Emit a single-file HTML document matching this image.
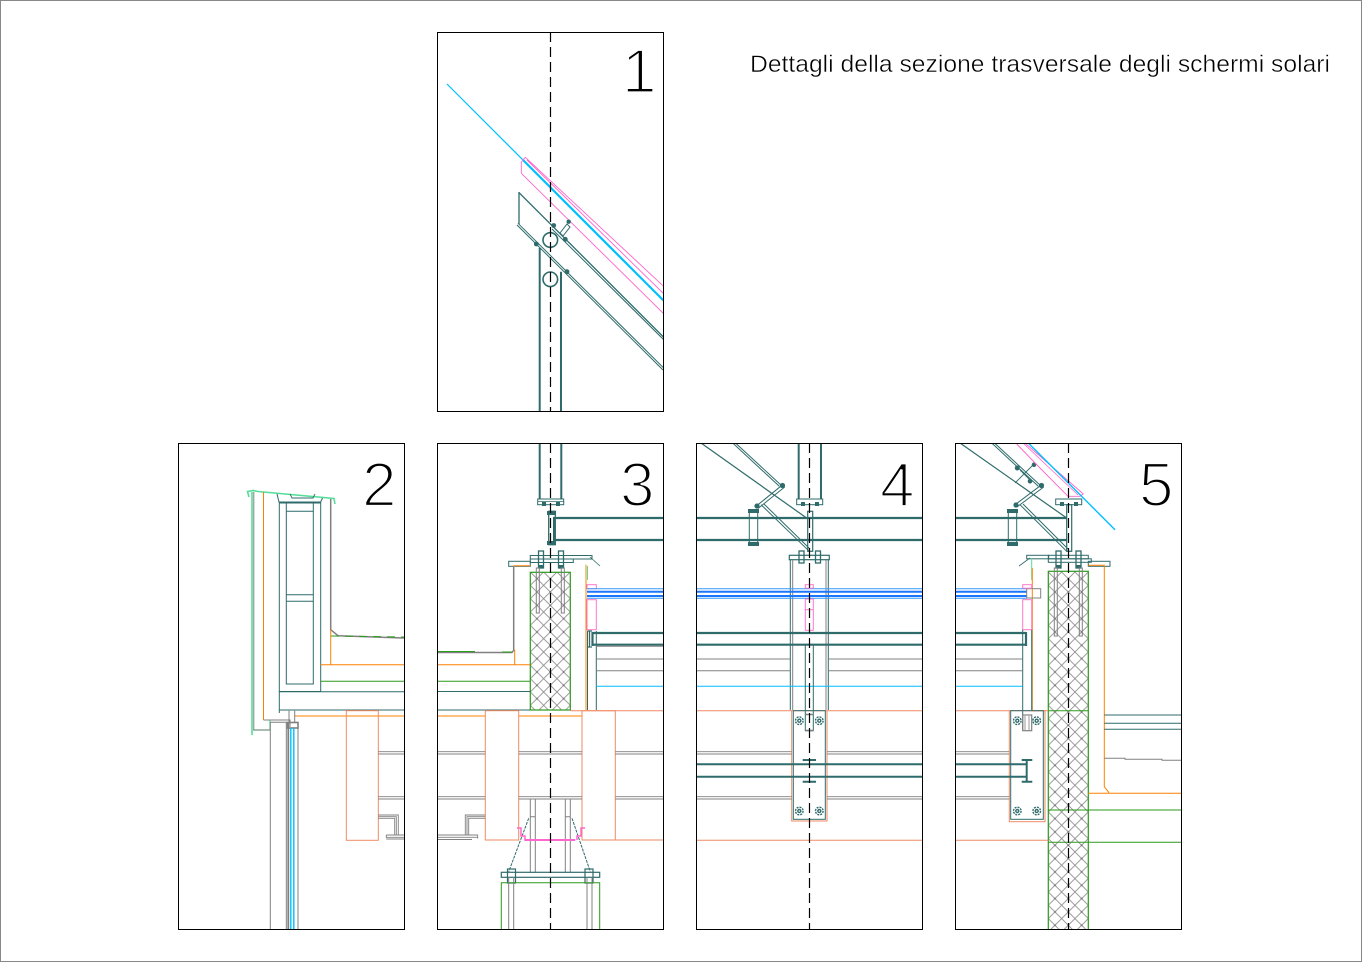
<!DOCTYPE html>
<html><head><meta charset="utf-8"><style>
html,body{margin:0;padding:0;background:#fff;}
svg{display:block;}
</style></head><body>
<svg width="1362" height="962" viewBox="0 0 1362 962" xmlns="http://www.w3.org/2000/svg">
<defs>
<clipPath id="c1"><rect x="437" y="32" width="227" height="380"/></clipPath>
<clipPath id="c2"><rect x="178" y="443" width="227" height="487"/></clipPath>
<clipPath id="c3"><rect x="437" y="443" width="227" height="487"/></clipPath>
<clipPath id="c4"><rect x="696" y="443" width="227" height="487"/></clipPath>
<clipPath id="c5"><rect x="955" y="443" width="227" height="487"/></clipPath>
<pattern id="xh3" patternUnits="userSpaceOnUse" x="530.3" y="572" width="13.33" height="13.33">
 <path d="M0 0L13.33 13.33M13.33 0L0 13.33" stroke="#8a8a8a" stroke-width="0.8" fill="none"/>
 <circle cx="6.67" cy="6.67" r="1" fill="#777"/>
</pattern>
<pattern id="xh5" patternUnits="userSpaceOnUse" x="1048.3" y="572" width="13.33" height="13.33">
 <path d="M0 0L13.33 13.33M13.33 0L0 13.33" stroke="#8a8a8a" stroke-width="0.8" fill="none"/>
 <circle cx="6.67" cy="6.67" r="1" fill="#777"/>
</pattern>
</defs>

<rect x="0.5" y="0.5" width="1361" height="961" fill="#fff" stroke="#888" stroke-width="1"/>

<text x="750" y="72" font-family="Liberation Sans, sans-serif" font-size="24" textLength="580" lengthAdjust="spacingAndGlyphs" fill="#000" stroke="#fff" stroke-width="0.45">Dettagli della sezione trasversale degli schermi solari</text>

<!-- ================= PANEL 1 ================= -->
<g clip-path="url(#c1)" fill="none">
 <line x1="447" y1="84" x2="664" y2="301" stroke="#00bfff" stroke-width="1.2"/>
 <line x1="523" y1="160" x2="664" y2="301" stroke="#00bfff" stroke-width="2.2"/>
 <path d="M525.3 157.3L664 286.7M521.3 173.3L664 314M521.3 162V173.3M521.3 162L525.3 157.3M527 160L664 294" stroke="#ff66cc" stroke-width="0.9"/>
 <path d="M518.7 192.3L664 337.5M519 192V224" stroke="#2f6b6b" stroke-width="1.3"/>
 <path d="M552 229L664 340" stroke="#2f6b6b" stroke-width="1"/>
 <path d="M518 223.3L664 368.3M517 225L663 370" stroke="#2f6b6b" stroke-width="1"/>
 <circle cx="550.3" cy="240" r="7.3" stroke="#2f6b6b" stroke-width="1.6"/>
 <circle cx="550.3" cy="279.3" r="7.3" stroke="#2f6b6b" stroke-width="1.6"/>
 <path d="M539.7 248V412M561 271.7V412" stroke="#2f6b6b" stroke-width="2"/>
 <path d="M560 233L567 224L570 227L563 236Z" stroke="#2f6b6b" stroke-width="1"/>
 <g fill="#2f6b6b">
  <circle cx="553.7" cy="225.5" r="2.4"/><circle cx="568.7" cy="221.7" r="2.2"/>
  <circle cx="565.3" cy="239.3" r="2.4"/><circle cx="536.3" cy="244" r="2.4"/>
  <circle cx="567" cy="271.7" r="2.4"/>
 </g>
</g>
<line x1="550.5" y1="32" x2="550.5" y2="411" stroke="#000" stroke-width="1.2" stroke-dasharray="10 5"/>
<rect x="437.5" y="32.5" width="226" height="379" fill="none" stroke="#000" stroke-width="1"/>
<text x="622" y="92.5" font-family="Liberation Sans, sans-serif" font-size="62" fill="#000" stroke="#fff" stroke-width="2.2">1</text>

<!-- ================= PANEL 2 ================= -->
<g clip-path="url(#c2)" fill="none">
 <polyline points="249,497 247.5,491.5 253,490.5 258,491.5 334,498.5 335,504" stroke="#55dd99" stroke-width="1.6"/>
 <line x1="252" y1="492" x2="252" y2="735" stroke="#55dd99" stroke-width="1.6"/>
 <polyline points="253,730 270,730 270,720" stroke="#55dd99" stroke-width="1.3"/>
 <polyline points="253.8,492 253.8,730 270,730" stroke="#808080" stroke-width="1"/>
 <line x1="263.5" y1="492" x2="263.5" y2="720" stroke="#ff8000" stroke-width="1"/>
 <polyline points="263.5,720 290,720 290,727" stroke="#808080" stroke-width="1"/>
 <rect x="279.3" y="503" width="41.4" height="188.5" stroke="#2f6b6b" stroke-width="1"/>
 <rect x="286.3" y="503" width="27" height="181" stroke="#2f6b6b" stroke-width="1"/>
 <path d="M286.3 511.3H313.3M286.3 594.7H313.3M286.3 601.3H313.3" stroke="#2f6b6b" stroke-width="1"/>
 <polyline points="277,494 279,502 320.7,502 322.5,498" stroke="#2f6b6b" stroke-width="1"/>
 <polyline points="290,494 292,498 313,498 315,494" stroke="#2f6b6b" stroke-width="0.9"/>
 <path d="M279.3 691.5V713M279.3 691.7H405M279.3 710H405" stroke="#2f6b6b" stroke-width="1"/>
 <polyline points="330.7,499 330.7,629.7 338,635.7 404,638" stroke="#808080" stroke-width="1.5"/>
 <line x1="331" y1="636" x2="404" y2="637" stroke="#2a9a1a" stroke-width="1" stroke-dasharray="8 6"/>
 <polyline points="330.7,630 330.7,664.7" stroke="#ff8000" stroke-width="1"/>
 <line x1="320.7" y1="664.7" x2="405" y2="664.7" stroke="#ff8000" stroke-width="1"/>
 <line x1="320.7" y1="681.3" x2="405" y2="681.3" stroke="#2a9a1a" stroke-width="1"/>
 <line x1="294.7" y1="716" x2="405" y2="716" stroke="#ff8000" stroke-width="1"/>
 <rect x="346.3" y="710.7" width="32" height="129.6" stroke="#f08a64" stroke-width="1"/>
 <path d="M378.3 751.7H405M378.3 754H405M378.3 796.7H405M378.3 799H405" stroke="#808080" stroke-width="0.9"/>
 <path d="M378.3 815H398.3V835M378.3 816.7H396.3V835M378.3 818.3H394.7V835M386.3 835H405M386.3 837.3H405M386.3 839H405M386.3 835V838" stroke="#808080" stroke-width="0.9"/>
 <path d="M289 710.7V722M294.7 710.7V722M270.3 722.3H288" stroke="#808080" stroke-width="1"/>
 <rect x="287.5" y="722.5" width="10.5" height="5.5" stroke="#808080" stroke-width="1.6"/>
 <path d="M270.3 722V930M286.3 722V930M298 722V930" stroke="#808080" stroke-width="1"/>
 <path d="M288.3 722V930" stroke="#808080" stroke-width="1.8"/>
 <path d="M290.8 728V930M293.8 728V930" stroke="#00bfff" stroke-width="1.4"/>
</g>
<rect x="178.5" y="443.5" width="226" height="486" fill="none" stroke="#000" stroke-width="1"/>
<text x="362" y="506" font-family="Liberation Sans, sans-serif" font-size="62" fill="#000" stroke="#fff" stroke-width="2.2">2</text>

<!-- ================= PANEL 3 ================= -->
<g clip-path="url(#c3)" fill="none">
 <path d="M539.7 443V499M561.3 443V499" stroke="#2f6b6b" stroke-width="2"/>
 <rect x="537.7" y="499" width="26" height="5.7" stroke="#2f6b6b" stroke-width="1"/>
 <line x1="537.7" y1="501.5" x2="563.7" y2="501.5" stroke="#2f6b6b" stroke-width="0.8"/>
 <rect x="542" y="502" width="4" height="4" fill="#2f6b6b"/><rect x="556" y="502" width="4" height="4" fill="#2f6b6b"/>
 <rect x="548.7" y="511.3" width="6.6" height="33.4" stroke="#2f6b6b" stroke-width="1.3"/>
 <rect x="547" y="511" width="9" height="4" fill="#2f6b6b"/><rect x="547" y="541" width="9" height="4" fill="#2f6b6b"/>
 <path d="M553 518H664M553 540H664" stroke="#2f6b6b" stroke-width="2.2"/>
 <path d="M554 517V541" stroke="#2f6b6b" stroke-width="2"/>
 <rect x="508.7" y="561.3" width="21.6" height="5" stroke="#2f6b6b" stroke-width="1"/>
 <rect x="530.3" y="555.5" width="61.7" height="3.5" stroke="#2f6b6b" stroke-width="1"/>
 <rect x="530.3" y="559" width="43" height="3.5" stroke="#2f6b6b" stroke-width="1"/>
 <rect x="538.5" y="551" width="5" height="17" stroke="#2f6b6b" stroke-width="1.3"/>
 <rect x="558.5" y="551" width="5" height="17" stroke="#2f6b6b" stroke-width="1.3"/>
 <rect x="538" y="565" width="6" height="3.5" fill="#2f6b6b"/><rect x="558" y="565" width="6" height="3.5" fill="#2f6b6b"/>
 <line x1="590" y1="557" x2="600" y2="566" stroke="#2f6b6b" stroke-width="0.8"/>
 <rect x="530.3" y="572.3" width="40" height="137.7" fill="url(#xh3)" stroke="#2a9a1a" stroke-width="1.2"/>
 <rect x="536.3" y="568" width="3" height="45" stroke="#808080" stroke-width="1"/>
 <rect x="561.3" y="568" width="3" height="45" stroke="#808080" stroke-width="1"/>
 <path d="M437 652.5H512L513.7 650.3V565.7" stroke="#808080" stroke-width="1.5"/>
 <path d="M437 651.5H475M502 652H512" stroke="#2a9a1a" stroke-width="1"/>
 <path d="M513.7 565.7H530.3M514.7 649.7V664.7M437 664.7H530.3" stroke="#ff8000" stroke-width="1"/>
 <path d="M437 681.3H530.3" stroke="#2a9a1a" stroke-width="1"/>
 <path d="M437 691.5H530.3M437 710H530.3" stroke="#2f6b6b" stroke-width="1"/>
 <path d="M437 716H485.3M518.7 716H582" stroke="#ff8000" stroke-width="1"/>
 <path d="M586 564.7V710" stroke="#ff8000" stroke-width="1"/>
 <path d="M587.5 631V710M596.3 631V710" stroke="#2f6b6b" stroke-width="1"/>
 <path d="M587.5 566V580" stroke="#55dd99" stroke-width="1"/>
 <rect x="587" y="584.7" width="9.3" height="4" stroke="#ff77cc" stroke-width="1"/>
 <rect x="587" y="599.7" width="9.3" height="30" stroke="#ff77cc" stroke-width="1"/>
 <path d="M587 588.7H664M587 598.3H664" stroke="#3399ff" stroke-width="1"/>
 <path d="M587 591.7H664M587 596H664" stroke="#1a75ff" stroke-width="2"/>
 <path d="M592 633H664M592 644.7H664M592.5 632V646" stroke="#2f6b6b" stroke-width="2.2"/>
 <path d="M589.5 631V647M587.5 631H592M587.5 647H592" stroke="#2f6b6b" stroke-width="1.3"/>
 <path d="M596.3 646.3H664M596.3 659H664M596.3 670.7H664" stroke="#808080" stroke-width="1"/>
 <path d="M596.3 686.3H664" stroke="#00bfff" stroke-width="1"/>
 <path d="M570.3 710.7H664M615.3 840H664" stroke="#f08a64" stroke-width="1"/>
 <rect x="485.3" y="710.7" width="33.4" height="129.3" stroke="#f08a64" stroke-width="1"/>
 <rect x="582" y="710.7" width="33.3" height="129.3" stroke="#f08a64" stroke-width="1"/>
 <path d="M437 751.7H485.3M518.7 751.7H582M615.3 751.7H664M437 754H485.3M518.7 754H582M615.3 754H664M437 796.7H485.3M518.7 796.7H582M615.3 796.7H664M437 799H485.3M518.7 799H582M615.3 799H664" stroke="#808080" stroke-width="0.9"/>
 <path d="M465.3 835V815H485.3M467 835V816.7H485.3M468.7 835V818.3H485.3M437 835H477.7V838.5M437 837.3H477.7M437 839.5H472" stroke="#808080" stroke-width="0.9"/>
 <path d="M530.3 799.3V872.7M535.3 799.3V872.7M565.3 799.3V872.7M570.3 799.3V872.7M530.3 816.7H535.3M565.3 816.7H570.3" stroke="#808080" stroke-width="1"/>
 <path d="M528.7 818.3L508.7 871.7M572 818.3L590.3 871.7" stroke="#2f6b6b" stroke-width="1" stroke-dasharray="3 1"/>
 <path d="M517 828H521V836H525V840M585 828H581V836H577V840" stroke="#ff66cc" stroke-width="1.5"/>
 <path d="M524.3 840H575.3" stroke="#ff66cc" stroke-width="2"/>
 <rect x="501.3" y="872.3" width="98.4" height="5" stroke="#2f6b6b" stroke-width="1.2"/>
 <rect x="507.5" y="869" width="8" height="14" stroke="#2f6b6b" stroke-width="1.2"/>
 <rect x="585" y="869" width="8" height="14" stroke="#2f6b6b" stroke-width="1.2"/>
 <path d="M501.3 930V882.7H599.7V930" stroke="#2a9a1a" stroke-width="1"/>
 <path d="M508.7 877V930M513.7 877V930M587 877V930M592 877V930" stroke="#808080" stroke-width="1"/>
</g>
<line x1="550.5" y1="443" x2="550.5" y2="929" stroke="#000" stroke-width="1.2" stroke-dasharray="10 5"/>
<rect x="437.5" y="443.5" width="226" height="486" fill="none" stroke="#000" stroke-width="1"/>
<text x="620" y="506" font-family="Liberation Sans, sans-serif" font-size="62" fill="#000" stroke="#fff" stroke-width="2.2">3</text>

<!-- ================= PANEL 4 ================= -->
<g clip-path="url(#c4)" fill="none">
 <path d="M701 443L808 519" stroke="#2f6b6b" stroke-width="1.2"/>
 <path d="M732.7 443L779.3 486.3M735.5 443L782 486" stroke="#2f6b6b" stroke-width="1"/>
 <path d="M761 504.7L809.3 551.3M764 504L810 549" stroke="#2f6b6b" stroke-width="1"/>
 <path d="M756 506.3L782.7 484.7M758 508.5L784.7 487" stroke="#2f6b6b" stroke-width="1"/>
 <circle cx="757" cy="506" r="2.6" fill="#2f6b6b"/><circle cx="782.5" cy="485.5" r="2.6" fill="#2f6b6b"/>
 <path d="M798.7 443V499M821 443V499" stroke="#2f6b6b" stroke-width="2"/>
 <rect x="796.7" y="499" width="26" height="5.7" stroke="#2f6b6b" stroke-width="1"/>
 <rect x="801" y="502" width="4" height="4" fill="#2f6b6b"/><rect x="815" y="502" width="4" height="4" fill="#2f6b6b"/>
 <path d="M696 518H922M696 540H922" stroke="#2f6b6b" stroke-width="2.2"/>
 <rect x="749.3" y="511.3" width="8.4" height="33.4" stroke="#2f6b6b" stroke-width="1"/>
 <rect x="748" y="509" width="11" height="4" fill="#2f6b6b"/><rect x="748" y="542" width="11" height="4" fill="#2f6b6b"/>
 <rect x="807.7" y="511.3" width="5" height="40" stroke="#2f6b6b" stroke-width="1.2"/>
 <rect x="789.3" y="555.3" width="40" height="4.4" stroke="#2f6b6b" stroke-width="1.2"/>
 <rect x="799" y="551" width="5" height="12" stroke="#2f6b6b" stroke-width="1.3"/>
 <rect x="815.5" y="551" width="5" height="12" stroke="#2f6b6b" stroke-width="1.3"/>
 <path d="M790.3 559.7V710M828.3 559.7V710" stroke="#2f6b6b" stroke-width="1"/>
 <path d="M792.7 559.7V710M826 559.7V710" stroke="#808080" stroke-width="1"/>
 <path d="M696 588.7H922M696 598.3H922" stroke="#3399ff" stroke-width="1"/>
 <path d="M696 591.7H922M696 596H922" stroke="#1a75ff" stroke-width="2"/>
 <rect x="805.3" y="584.7" width="8" height="3.5" stroke="#ff77cc" stroke-width="1"/>
 <rect x="805.3" y="599" width="8" height="31.3" stroke="#ff77cc" stroke-width="1"/>
 <path d="M805.3 609.7H813.3" stroke="#ff77cc" stroke-width="1"/>
 <path d="M696 633H922M696 644.7H922" stroke="#2f6b6b" stroke-width="2.2"/>
 <path d="M696 659H790.3M828.3 659H922M696 670.7H790.3M828.3 670.7H922" stroke="#808080" stroke-width="1"/>
 <path d="M696 686.3H922" stroke="#00bfff" stroke-width="1"/>
 <rect x="805.3" y="644.7" width="8" height="86" stroke="#2f6b6b" stroke-width="1"/>
 <path d="M805.3 714.5H813.3M805.3 730.5H813.3" stroke="#808080" stroke-width="1.6"/>
 <path d="M696 710.7H791.7M827 710.7H922M696 840.3H922" stroke="#f08a64" stroke-width="1"/>
 <rect x="791.7" y="710.7" width="35.3" height="110.3" stroke="#f08a64" stroke-width="1"/>
 <rect x="793.3" y="710.7" width="32" height="108.6" stroke="#2f6b6b" stroke-width="1"/>
 <g stroke="#2f6b6b" stroke-width="1.4">
  <circle cx="799.3" cy="720.7" r="3.8" stroke-dasharray="2 1"/><circle cx="819.3" cy="720.7" r="3.8" stroke-dasharray="2 1"/>
  <circle cx="799.3" cy="811" r="3.8" stroke-dasharray="2 1"/><circle cx="819.3" cy="811" r="3.8" stroke-dasharray="2 1"/>
  <circle cx="799.3" cy="720.7" r="1.5"/><circle cx="819.3" cy="720.7" r="1.5"/>
  <circle cx="799.3" cy="811" r="1.5"/><circle cx="819.3" cy="811" r="1.5"/>
 </g>
 <path d="M696 751.7H791.7M827 751.7H922M696 754H791.7M827 754H922M696 796.7H791.7M827 796.7H922M696 799H791.7M827 799H922" stroke="#808080" stroke-width="0.9"/>
 <path d="M696 764.3H922M696 776.7H922" stroke="#2f6b6b" stroke-width="2"/>
 <path d="M802.7 760H816M802.7 781.7H816" stroke="#2f6b6b" stroke-width="2"/>
</g>
<line x1="809.5" y1="443" x2="809.5" y2="929" stroke="#000" stroke-width="1.2" stroke-dasharray="10 5"/>
<rect x="696.5" y="443.5" width="226" height="486" fill="none" stroke="#000" stroke-width="1"/>
<text x="880" y="506" font-family="Liberation Sans, sans-serif" font-size="62" fill="#000" stroke="#fff" stroke-width="2.2">4</text>

<!-- ================= PANEL 5 ================= -->
<g clip-path="url(#c5)" fill="none">
 <path d="M960 443L1066.7 518" stroke="#2f6b6b" stroke-width="1.2"/>
 <path d="M991.7 443L1038.3 486.3M994.5 443L1041 486" stroke="#2f6b6b" stroke-width="1"/>
 <path d="M1020 504.7L1066.7 551.3M1023 504L1068 549" stroke="#2f6b6b" stroke-width="1"/>
 <path d="M1015 504.7L1041.7 484.7M1017 507L1043.7 487" stroke="#2f6b6b" stroke-width="1"/>
 <circle cx="1016" cy="505" r="2.6" fill="#2f6b6b"/><circle cx="1041.5" cy="485.5" r="2.6" fill="#2f6b6b"/>
 <path d="M1015 483L1035 463M1020 470L1030 480" stroke="#2f6b6b" stroke-width="0.9"/>
 <circle cx="1017.3" cy="468" r="2.5" fill="#2f6b6b"/><circle cx="1034" cy="464.7" r="2.3" fill="#2f6b6b"/><circle cx="1030" cy="481.3" r="2.3" fill="#2f6b6b"/>
 <polyline points="1016.7,444 1038,466 1068,496.3 1080,496.3 1083.3,494 1025,443" stroke="#ff66cc" stroke-width="0.9"/>
 <path d="M1023 443L1078 495" stroke="#ff66cc" stroke-width="0.8"/>
 <path d="M1028.3 443L1115 529.7" stroke="#00bfff" stroke-width="1.4"/>
 <rect x="1055.7" y="499" width="26" height="5.7" stroke="#2f6b6b" stroke-width="1"/>
 <rect x="1060" y="502" width="4" height="4" fill="#2f6b6b"/><rect x="1074" y="502" width="4" height="4" fill="#2f6b6b"/>
 <rect x="1066.7" y="504.7" width="5" height="46.6" stroke="#2f6b6b" stroke-width="1.2"/>
 <path d="M955 518H1066.7M955 540H1066.7" stroke="#2f6b6b" stroke-width="2.2"/>
 <rect x="1008.3" y="511.3" width="8.4" height="33.4" stroke="#2f6b6b" stroke-width="1"/>
 <rect x="1007" y="509" width="11" height="4" fill="#2f6b6b"/><rect x="1007" y="542" width="11" height="4" fill="#2f6b6b"/>
 <rect x="1026.7" y="555.3" width="22" height="3.5" stroke="#2f6b6b" stroke-width="1"/>
 <rect x="1048.3" y="558.8" width="43" height="3.5" stroke="#2f6b6b" stroke-width="1"/>
 <rect x="1048.3" y="555.3" width="40" height="3.5" stroke="#2f6b6b" stroke-width="1"/>
 <rect x="1088.3" y="561.3" width="21.7" height="5" stroke="#2f6b6b" stroke-width="1"/>
 <line x1="1019" y1="566" x2="1030" y2="558" stroke="#2f6b6b" stroke-width="0.8"/>
 <rect x="1056" y="551" width="5" height="17" stroke="#2f6b6b" stroke-width="1.3"/>
 <rect x="1076" y="551" width="5" height="17" stroke="#2f6b6b" stroke-width="1.3"/>
 <rect x="1055.5" y="565" width="6" height="3.5" fill="#2f6b6b"/><rect x="1075.5" y="565" width="6" height="3.5" fill="#2f6b6b"/>
 <rect x="1048.3" y="571.3" width="40" height="360" fill="url(#xh5)" stroke="#2a9a1a" stroke-width="1.2"/>
 <rect x="1054.3" y="568" width="3" height="68" stroke="#808080" stroke-width="1"/>
 <rect x="1079.3" y="568" width="3" height="68" stroke="#808080" stroke-width="1"/>
 <path d="M1048.3 710.7H1088.3M1048.3 810H1182M1048.3 842.3H1182" stroke="#2a9a1a" stroke-width="1"/>
 <path d="M1088.3 565.3H1104.3V786.7L1109 792.7M1088.3 793.3H1182" stroke="#ff8000" stroke-width="1"/>
 <path d="M1104.3 715H1182M1104.3 723.3H1182M1104.3 729.3H1182" stroke="#2f6b6b" stroke-width="1"/>
 <path d="M1104.3 758.3H1125V759.3H1162V760.3H1182" stroke="#808080" stroke-width="1"/>
 <path d="M1031.7 558V580" stroke="#55dd99" stroke-width="1"/>
 <path d="M1032.3 568V710.7" stroke="#ff8000" stroke-width="1"/>
 <path d="M955 588.7H1026.7M955 598.3H1026.7" stroke="#3399ff" stroke-width="1"/>
 <path d="M955 591.7H1026.7M955 596H1026.7" stroke="#1a75ff" stroke-width="2"/>
 <rect x="1026.7" y="588.7" width="14" height="9.3" stroke="#808080" stroke-width="1"/>
 <rect x="1022.7" y="584.7" width="9" height="3.5" stroke="#ff77cc" stroke-width="1"/>
 <rect x="1022.7" y="599.7" width="9" height="30" stroke="#ff77cc" stroke-width="1"/>
 <path d="M955 633H1026M955 644.7H1026M1026 632V646" stroke="#2f6b6b" stroke-width="2.2"/>
 <path d="M1022.7 629.7V730M1031.7 629.7V710" stroke="#2f6b6b" stroke-width="1"/>
 <path d="M955 659H1022.7M955 670.7H1022.7" stroke="#808080" stroke-width="1"/>
 <path d="M955 686.3H1022.7" stroke="#00bfff" stroke-width="1"/>
 <path d="M955 710.7H1009.3M1031.7 710.7H1048.3M955 840.3H1048.3" stroke="#f08a64" stroke-width="1"/>
 <rect x="1009.3" y="710.7" width="35.7" height="111" stroke="#f08a64" stroke-width="1"/>
 <rect x="1010.7" y="710.7" width="32.6" height="108.6" stroke="#2f6b6b" stroke-width="1"/>
 <rect x="1022.7" y="715" width="9" height="15.7" stroke="#808080" stroke-width="1.2"/>
 <path d="M1025 716V730M1029 716V730" stroke="#808080" stroke-width="0.8"/>
 <g stroke="#2f6b6b" stroke-width="1.4">
  <circle cx="1017.3" cy="720.7" r="3.8" stroke-dasharray="2 1"/><circle cx="1036.7" cy="720.7" r="3.8" stroke-dasharray="2 1"/>
  <circle cx="1017.3" cy="811" r="3.8" stroke-dasharray="2 1"/><circle cx="1036.7" cy="811" r="3.8" stroke-dasharray="2 1"/>
  <circle cx="1017.3" cy="720.7" r="1.5"/><circle cx="1036.7" cy="720.7" r="1.5"/>
  <circle cx="1017.3" cy="811" r="1.5"/><circle cx="1036.7" cy="811" r="1.5"/>
 </g>
 <path d="M955 764.3H1026M955 776.7H1026" stroke="#2f6b6b" stroke-width="2"/>
 <path d="M1026.7 760V781.7M1021.7 760H1032.3M1021.7 781.7H1032.3" stroke="#2f6b6b" stroke-width="2"/>
 <path d="M955 751.7H1009.3M955 754H1009.3M955 796.7H1009.3M955 799H1009.3" stroke="#808080" stroke-width="0.9"/>
</g>
<line x1="1068.5" y1="443" x2="1068.5" y2="929" stroke="#000" stroke-width="1.2" stroke-dasharray="10 5"/>
<rect x="955.5" y="443.5" width="226" height="486" fill="none" stroke="#000" stroke-width="1"/>
<text x="1139" y="506" font-family="Liberation Sans, sans-serif" font-size="62" fill="#000" stroke="#fff" stroke-width="2.2">5</text>
</svg>
</body></html>
